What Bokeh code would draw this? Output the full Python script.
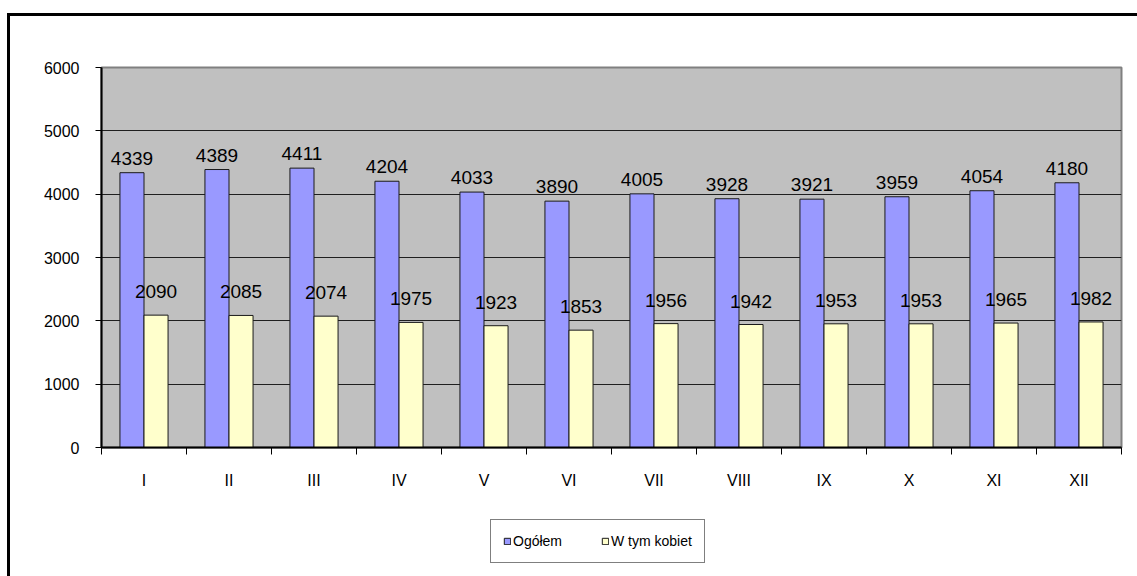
from bokeh.plotting import figure
from bokeh.layouts import column
from bokeh.models import (ColumnDataSource, FixedTicker, Range1d, Legend, LegendItem, LabelSet)
from bokeh.core.properties import value
from bokeh.transform import dodge
from bokeh.embed import file_html
from bokeh.resources import INLINE

months = ["I", "II", "III", "IV", "V", "VI", "VII", "VIII", "IX", "X", "XI", "XII"]
ogolem = [4339, 4389, 4411, 4204, 4033, 3890, 4005, 3928, 3921, 3959, 4054, 4180]
kobiety = [2090, 2085, 2074, 1975, 1923, 1853, 1956, 1942, 1953, 1953, 1965, 1982]
y_ticks = [0, 1000, 2000, 3000, 4000, 5000, 6000]
series_names = ["Ogółem", "W tym kobiet"]
series_colors = ["#9999FF", "#FFFFCC"]

xs = [i + 0.5 for i in range(len(months))]
src = ColumnDataSource(dict(x=xs, og=ogolem, kb=kobiety,
                            og_t=[str(v) for v in ogolem], kb_t=[str(v) for v in kobiety]))

FONT = "Liberation Sans"
EDGE = "#1a1a1a"

# ---------------- main chart ----------------
p = figure(width=1130, height=497, output_backend="svg", toolbar_location=None,
           x_range=Range1d(0, 12), y_range=Range1d(0, 6000),
           min_border_left=94, min_border_right=16, min_border_top=54, min_border_bottom=63)
p.margin = (13, 0, 0, 7)
p.styles = {"box-shadow": "inset 3px 3px 0 0 black", "background-color": "white"}
p.background_fill_color = "#C0C0C0"
p.border_fill_alpha = 0
p.outline_line_color = "#808080"
p.outline_line_width = 2

bw = 0.283
b1 = p.vbar(x=dodge("x", -bw / 2, range=p.x_range), top="og", width=bw, source=src,
            fill_color=series_colors[0], line_color=EDGE, line_width=1)
b2 = p.vbar(x=dodge("x", bw / 2, range=p.x_range), top="kb", width=bw, source=src,
            fill_color=series_colors[1], line_color=EDGE, line_width=1)

l1 = LabelSet(x=dodge("x", -bw / 2, range=p.x_range), y="og", text="og_t", source=src,
              text_align="center", text_baseline="bottom", y_offset=8,
              text_font=value(FONT), text_font_size="19px", text_color="black")
l2 = LabelSet(x=dodge("x", bw / 2, range=p.x_range), y="kb", text="kb_t", source=src,
              text_align="center", text_baseline="bottom", y_offset=17,
              text_font=value(FONT), text_font_size="19px", text_color="black")
p.add_layout(l1)
p.add_layout(l2)

p.xgrid.grid_line_color = None
p.ygrid.ticker = FixedTicker(ticks=y_ticks)
p.ygrid.grid_line_color = "#1f1f1f"
p.ygrid.grid_line_width = 1

p.yaxis.ticker = FixedTicker(ticks=y_ticks)
p.yaxis.axis_line_color = "black"
p.yaxis.axis_line_width = 2
p.yaxis.major_tick_line_color = "black"
p.yaxis.major_tick_out = 6
p.yaxis.major_tick_in = 0
p.yaxis.minor_tick_line_color = None
p.yaxis.major_label_text_font = FONT
p.yaxis.major_label_text_font_size = "16px"
p.yaxis.major_label_text_color = "black"
p.yaxis.major_label_standoff = 16

p.xaxis.ticker = FixedTicker(ticks=xs, minor_ticks=list(range(13)))
p.xaxis.major_label_overrides = {x: m for x, m in zip(xs, months)}
p.xaxis.axis_line_color = "black"
p.xaxis.axis_line_width = 2
p.xaxis.major_tick_line_color = None
p.xaxis.major_tick_out = 0
p.xaxis.major_tick_in = 0
p.xaxis.minor_tick_line_color = "black"
p.xaxis.minor_tick_out = 7
p.xaxis.minor_tick_in = 0
p.xaxis.major_label_text_font = FONT
p.xaxis.major_label_text_font_size = "16px"
p.xaxis.major_label_text_color = "black"
p.xaxis.major_label_standoff = 17

# ---------------- legend strip ----------------
p2 = figure(width=1130, height=66, output_backend="svg", toolbar_location=None,
            x_range=Range1d(0, 1), y_range=Range1d(0, 1),
            x_axis_location=None, y_axis_location=None, min_border=0)
p2.margin = (0, 0, 0, 7)
p2.styles = {"box-shadow": "inset 3px 0 0 0 black", "background-color": "white"}
p2.background_fill_alpha = 0
p2.border_fill_alpha = 0
p2.outline_line_color = None
p2.xgrid.visible = False
p2.ygrid.visible = False
# legend proxies: one bar each, placed below the visible range
r1 = p2.vbar(x=[0.5], top=[-2], bottom=[-3], width=0.1,
             fill_color=series_colors[0], line_color=EDGE)
r2 = p2.vbar(x=[0.5], top=[-2], bottom=[-3], width=0.1,
             fill_color=series_colors[1], line_color=EDGE)

legend = Legend(items=[LegendItem(label=series_names[0], renderers=[r1]),
                       LegendItem(label=series_names[1], renderers=[r2])],
                orientation="horizontal", location=(389, 13),
                glyph_width=8, glyph_height=8, label_text_font=FONT,
                label_text_font_size="14px", label_text_color="black",
                label_standoff=2, label_width=66, label_height=18, spacing=22,
                padding=12, margin=0, border_line_color="black", border_line_width=1,
                background_fill_color="white", background_fill_alpha=1)
p2.add_layout(legend, "center")

layout = column(p, p2, spacing=0)
open("out.html", "w").write(file_html(layout, INLINE))
